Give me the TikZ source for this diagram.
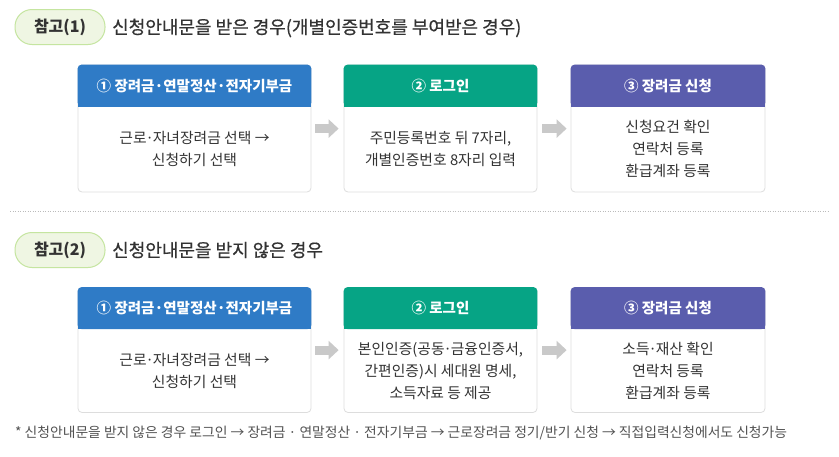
\documentclass[tikz,border=0pt]{standalone}
\usepackage{fontspec}
\setmainfont{Noto Sans CJK KR}
\newfontfamily\titlefont[FakeBold=0.6]{Noto Sans CJK KR}
\usetikzlibrary{calc,arrows.meta}
\newcommand{\nd}{\hbox to 0.42em{\hss·\hss}}
\definecolor{hblue}{HTML}{2F7BC6}
\definecolor{hgreen}{HTML}{06A485}
\definecolor{hpurple}{HTML}{5A5DAD}
\definecolor{cardline}{HTML}{DDDDDD}
\definecolor{pillfill}{HTML}{EFF6E3}
\definecolor{pillline}{HTML}{C5E5A0}
\definecolor{txt}{HTML}{333333}
\definecolor{arrowgray}{HTML}{C9C9C9}
\definecolor{dotgray}{HTML}{BBBBBB}
\tikzset{
  card/.style={draw=cardline, fill=white, rounded corners=4pt, minimum width=233pt, minimum height=127pt, inner sep=0pt, line width=0.8pt},
  headtxt/.style={text=white, font=\fontsize{14.5}{16}\selectfont\bfseries},
  bodytxt/.style={text=txt, align=center, font=\fontsize{14.8}{22}\selectfont},
  pill/.style={draw=pillline, fill=pillfill, rounded corners=17pt, minimum width=90pt, minimum height=35pt, line width=1pt, text=txt, font=\fontsize{16}{18}\selectfont\bfseries},
  titletxt/.style={text=txt, anchor=west, inner sep=0pt, font=\fontsize{18}{20}\titlefont},
  flowarrow/.style={draw=arrowgray, line width=9pt, -{Triangle[width=18pt,length=10pt]}},
  foot/.style={text=txt!85, anchor=west, inner sep=0pt, font=\fontsize{13.8}{16}\selectfont}
}
\newcommand{\mkheader}[3]{%
  \fill[#2, rounded corners=4pt] (#1.north west) rectangle ([yshift=-42pt]#1.north east);
  \fill[#2] ([yshift=-30pt]#1.north west) rectangle ([yshift=-42pt]#1.north east);
  \node[headtxt] (#1h) at ([yshift=-21pt]#1.north) {#3};
}
\begin{document}
\begin{tikzpicture}[x=1pt,y=-1pt]
\useasboundingbox[fill=white] (0,0) rectangle (839,456);

% ---- section 1
\node[pill] (p1) at (60,27) {참고(1)};
\node[titletxt] (t1) at (112,28) {신청안내문을 받은 경우(개별인증번호를 부여받은 경우)};

\node[card] (a1) at (194.5,128.5) {};
\node[card, minimum width=193pt] (a2) at (440.5,128.5) {};
\node[card, minimum width=194pt] (a3) at (668,128.5) {};
\mkheader{a1}{hblue}{① 장려금·연말정산·전자기부금}
\mkheader{a2}{hgreen}{② 로그인}
\mkheader{a3}{hpurple}{③ 장려금 신청}
\node[bodytxt] (a1b) at ($(a1.south)+(0,-43)$) {근로\nd 자녀장려금 선택 →\\신청하기 선택};
\node[bodytxt] (a2b) at ($(a2.south)+(0,-43)$) {주민등록번호 뒤 7자리,\\개별인증번호 8자리 입력};
\node[bodytxt] (a3b) at ($(a3.south)+(0,-43)$) {신청요건 확인\\연락처 등록\\환급계좌 등록};
\coordinate (r1a) at ($(a1.north east)+(4,64)$);
\coordinate (r1b) at ($(a2.north west)+(-5,64)$);
\coordinate (r1c) at ($(a2.north east)+(5,64)$);
\coordinate (r1d) at ($(a3.north west)+(-4,64)$);
\draw[flowarrow] (r1a) -- (r1b);
\draw[flowarrow] (r1c) -- (r1d);

% ---- divider
\coordinate (d1) at (10,211);
\coordinate (d2) at (829,211);
\draw[dotgray, line width=0.8pt, dash pattern=on 1pt off 1.5pt] (d1) -- (d2);

% ---- section 2
\node[pill] (p2) at (60,250) {참고(2)};
\node[titletxt] (t2) at (112,250) {신청안내문을 받지 않은 경우};

\node[card, minimum height=125pt] (c1) at (194.5,350) {};
\node[card, minimum width=193pt, minimum height=125pt] (c2) at (440.5,350) {};
\node[card, minimum width=194pt, minimum height=125pt] (c3) at (668,350) {};
\mkheader{c1}{hblue}{① 장려금·연말정산·전자기부금}
\mkheader{c2}{hgreen}{② 로그인}
\mkheader{c3}{hpurple}{③ 장려금 신청}
\node[bodytxt] (c1b) at ($(c1.south)+(0,-42)$) {근로\nd 자녀장려금 선택 →\\신청하기 선택};
\node[bodytxt] (c2b) at ($(c2.south)+(0,-42)$) {본인인증(공동\nd 금융인증서,\\간편인증)시 세대원 명세,\\소득자료 등 제공};
\node[bodytxt] (c3b) at ($(c3.south)+(0,-42)$) {소득\nd 재산 확인\\연락처 등록\\환급계좌 등록};
\coordinate (r2a) at ($(c1.north east)+(4,63)$);
\coordinate (r2b) at ($(c2.north west)+(-5,63)$);
\coordinate (r2c) at ($(c2.north east)+(5,63)$);
\coordinate (r2d) at ($(c3.north west)+(-4,63)$);
\draw[flowarrow] (r2a) -- (r2b);
\draw[flowarrow] (r2c) -- (r2d);

\node[foot] (fn) at (15,433) {* 신청안내문을 받지 않은 경우 로그인 → 장려금 · 연말정산 · 전자기부금 → 근로장려금 정기/반기 신청 → 직접입력신청에서도 신청가능};
\end{tikzpicture}
\end{document}
